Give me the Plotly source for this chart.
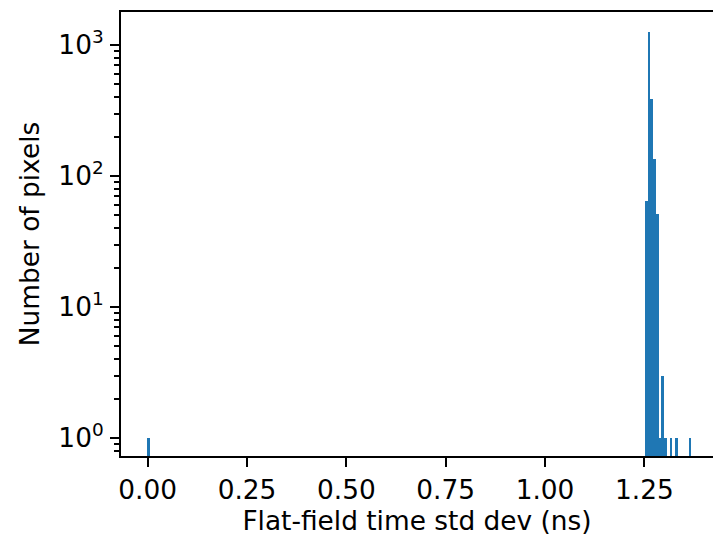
import plotly.graph_objects as go

# Histogram (bin width ~0.00684 ns)
bin_width = 0.00684
bin_centers = [0.0014, 1.2552, 1.2620, 1.2689, 1.2757, 1.2826, 1.2894, 1.2962, 1.3031, 1.3168, 1.3304, 1.3646]
counts = [1, 65, 1250, 385, 135, 51, 1, 3, 1, 1, 1, 1]

x_tick_vals = [0.0, 0.25, 0.5, 0.75, 1.0, 1.25]
x_tick_text = ["0.00", "0.25", "0.50", "0.75", "1.00", "1.25"]
y_tick_vals = [1, 10, 100, 1000]
y_tick_text = ["10<sup>0</sup>", "10<sup>1</sup>", "10<sup>2</sup>", "10<sup>3</sup>"]
y_minor_vals = [m * 10 ** e for e in range(-1, 4) for m in range(2, 10)]

fig = go.Figure(
    go.Bar(
        x=bin_centers,
        y=counts,
        width=[bin_width] * len(bin_centers),
        marker=dict(color="#1f77b4", line=dict(width=0)),
    )
)

font = dict(family="DejaVu Sans", size=26.4, color="black")
fig.update_layout(
    width=713,
    height=537,
    margin=dict(l=121, r=0, t=12, b=81, autoexpand=False),
    plot_bgcolor="white",
    paper_bgcolor="white",
    bargap=0,
    showlegend=False,
    font=font,
)
fig.update_xaxes(
    range=[-0.0672, 1.4228],
    tickvals=x_tick_vals,
    ticktext=x_tick_text,
    ticks="outside",
    ticklen=9,
    tickwidth=2,
    tickcolor="black",
    showline=True,
    linecolor="black",
    linewidth=2,
    mirror=True,
    showgrid=False,
    zeroline=False,
    automargin=False,
    title=dict(text="Flat-field time std dev (ns)", font=font, standoff=8),
    tickfont=font,
)
fig.update_yaxes(
    type="log",
    range=[-0.137, 3.252],
    tickvals=y_tick_vals,
    ticktext=y_tick_text,
    ticks="outside",
    ticklen=9,
    tickwidth=2,
    tickcolor="black",
    ticklabelstandoff=1,
    minor=dict(tickmode="array", tickvals=y_minor_vals, ticks="outside", ticklen=5, tickwidth=1.5, tickcolor="black", showgrid=False),
    showline=True,
    linecolor="black",
    linewidth=2,
    showgrid=False,
    zeroline=False,
    automargin=False,
    title=dict(text="Number of pixels", font=font, standoff=11),
    tickfont=font,
)

fig.write_html(
    "out.html",
    config={"displayModeBar": False},
    post_script="document.body.style.margin='0';document.body.style.overflow='hidden';",
)
